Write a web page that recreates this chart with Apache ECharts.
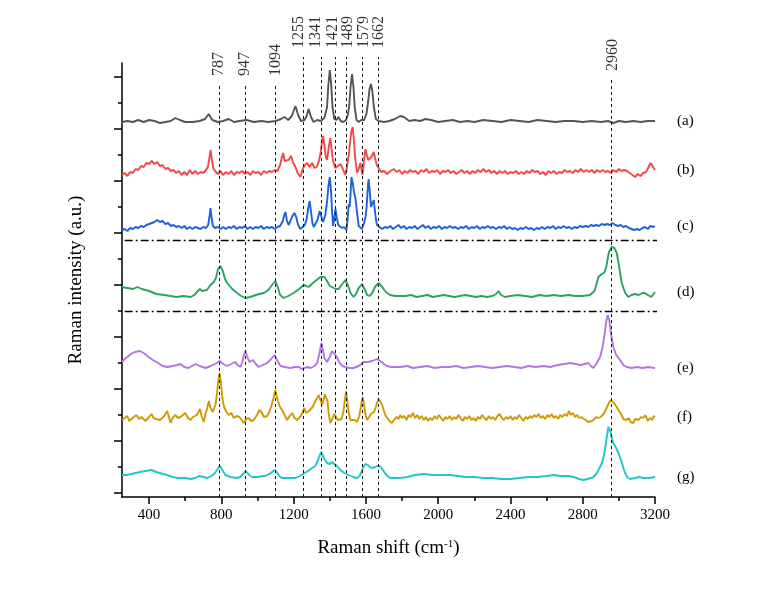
<!DOCTYPE html>
<html><head><meta charset="utf-8">
<script src="https://cdn.jsdelivr.net/npm/echarts@6/dist/echarts.min.js"></script>
<style>html,body{margin:0;padding:0;background:#fff}#c{width:778px;height:593px}</style>
</head><body><div id="c"></div>
<script>
// Raman shift (cm-1) vs intensity (a.u., stacked with offsets already included)
const xTicks = [400, 800, 1200, 1600, 2000, 2400, 2800, 3200];
const xMinorTicks = [600, 1000, 1400, 1800, 2200, 2600, 3000];
const yMajorTicks = [4, 56, 108, 160, 212, 264, 316, 368, 420];
const yMinorTicks = [30, 82, 134, 186, 238, 290, 342, 394];
const seriesNames = ['(a)', '(b)', '(c)', '(d)', '(e)', '(f)', '(g)'];
const colors = ['#555555', '#f24848', '#1d62d8', '#2aa262', '#b474e2', '#d09a06', '#22c5c8'];

const specA = [[250,375],[280,376],[310,375],[340,377],[370,375],[400,377],[430,376],[460,374],[490,375],[520,376],[545,379],[570,377],[600,375],[640,375],[680,376],[710,378],[730,383],[750,377],[780,375],[810,376],[840,378],[870,375],[900,376],[940,377],[980,375],[1020,376],[1060,375],[1100,376],[1130,378],[1150,380],[1170,377],[1190,381],[1210,391],[1225,382],[1240,376],[1260,377],[1272,381],[1283,388],[1296,380],[1310,375],[1330,377],[1350,376],[1370,379],[1385,390],[1392,412],[1400,427],[1408,412],[1415,390],[1425,378],[1437,377],[1448,380],[1460,376],[1475,375],[1490,377],[1500,382],[1508,392],[1515,410],[1523,423],[1531,410],[1538,390],[1548,377],[1560,375],[1575,377],[1590,377],[1603,383],[1612,395],[1620,408],[1628,413],[1636,405],[1644,390],[1655,378],[1670,376],[1700,375],[1730,376],[1760,378],[1790,381],[1810,380],[1840,376],[1870,377],[1900,376],[1930,378],[1960,377],[2000,375],[2040,376],[2080,377],[2120,375],[2160,376],[2200,375],[2250,377],[2300,376],[2350,375],[2400,377],[2450,376],[2500,375],[2550,377],[2600,376],[2650,375],[2700,376],[2750,376],[2800,375],[2850,376],[2900,375],[2940,376],[2970,374],[3000,376],[3040,375],[3080,376],[3120,375],[3160,376],[3200,376]];

const specB = [[250,322],[265,324],[280,321],[295,325],[310,324],[325,328],[340,327],[355,331],[370,330],[385,334],[400,333],[415,336],[430,333],[445,335],[460,331],[475,332],[490,328],[505,329],[520,326],[535,327],[550,324],[565,326],[580,322],[595,325],[610,322],[625,327],[640,323],[655,326],[670,323],[685,325],[700,324],[715,327],[725,330],[733,338],[740,347],[747,338],[755,329],[765,326],[780,323],[795,326],[810,322],[825,325],[840,323],[855,326],[870,322],[885,325],[900,324],[915,326],[930,323],[945,325],[960,322],[975,326],[990,324],[1005,325],[1020,322],[1035,326],[1050,324],[1065,326],[1080,325],[1095,327],[1110,326],[1125,332],[1135,340],[1142,344],[1150,336],[1160,334],[1172,337],[1186,341],[1198,334],[1210,330],[1222,324],[1237,320],[1250,328],[1262,332],[1275,334],[1288,330],[1302,334],[1315,329],[1328,330],[1340,336],[1350,345],[1357,356],[1363,361],[1370,352],[1378,340],[1385,337],[1393,348],[1403,359],[1410,348],[1418,336],[1431,329],[1445,331],[1459,333],[1472,328],[1486,322],[1495,330],[1505,342],[1513,356],[1520,366],[1527,370],[1534,356],[1540,340],[1551,324],[1560,328],[1569,334],[1575,328],[1581,322],[1588,334],[1597,348],[1605,342],[1613,337],[1621,335],[1630,340],[1643,345],[1652,338],[1660,332],[1670,329],[1685,325],[1700,326],[1717,323],[1735,326],[1756,328],[1770,325],[1785,327],[1800,323],[1815,326],[1830,324],[1845,327],[1860,325],[1875,326],[1890,323],[1905,327],[1920,325],[1935,328],[1950,324],[1965,326],[1980,325],[1995,327],[2010,323],[2025,326],[2040,325],[2055,327],[2070,324],[2085,326],[2100,323],[2115,325],[2130,327],[2145,324],[2160,326],[2175,323],[2190,326],[2205,324],[2220,327],[2235,325],[2250,328],[2265,325],[2280,327],[2295,324],[2310,326],[2325,323],[2340,326],[2355,324],[2370,326],[2385,323],[2400,325],[2415,324],[2430,326],[2445,323],[2460,325],[2475,323],[2490,326],[2505,324],[2520,327],[2535,325],[2550,326],[2565,323],[2580,325],[2595,322],[2610,326],[2625,324],[2640,326],[2655,323],[2670,325],[2685,324],[2700,327],[2715,325],[2730,326],[2745,324],[2760,327],[2775,325],[2790,328],[2805,325],[2820,327],[2835,325],[2850,327],[2865,324],[2880,327],[2895,325],[2910,327],[2925,325],[2940,326],[2955,324],[2970,327],[2985,325],[3000,328],[3015,326],[3030,327],[3045,326],[3060,324],[3075,322],[3090,320],[3105,323],[3120,321],[3135,324],[3150,325],[3165,330],[3175,334],[3185,332],[3200,327]];

const specC = [[250,267],[265,268],[280,266],[295,269],[310,268],[325,270],[340,269],[355,271],[370,270],[385,272],[400,273],[415,274],[430,275],[445,277],[460,275],[475,276],[490,273],[505,274],[520,271],[535,272],[550,270],[565,271],[580,269],[595,271],[610,268],[625,270],[640,268],[655,270],[670,269],[685,268],[700,270],[715,269],[727,272],[734,280],[740,289],[746,279],[753,271],[765,269],[780,270],[795,268],[810,270],[825,268],[840,270],[855,269],[870,271],[885,268],[900,270],[915,269],[930,271],[945,268],[960,270],[975,268],[990,270],[1005,269],[1020,271],[1035,268],[1050,270],[1065,269],[1080,270],[1095,268],[1110,270],[1125,271],[1140,276],[1148,282],[1155,285],[1163,276],[1172,272],[1182,276],[1193,281],[1204,284],[1214,280],[1225,272],[1237,268],[1250,270],[1262,272],[1272,278],[1280,288],[1289,296],[1297,284],[1304,274],[1311,270],[1322,272],[1332,277],[1344,286],[1352,281],[1363,275],[1375,282],[1385,295],[1392,310],[1400,320],[1407,306],[1413,285],[1418,271],[1424,277],[1431,288],[1438,280],[1447,272],[1458,270],[1468,269],[1480,270],[1492,267],[1498,276],[1505,293],[1510,290],[1514,300],[1520,320],[1527,314],[1534,305],[1542,299],[1550,286],[1560,271],[1570,269],[1578,268],[1588,273],[1597,279],[1604,290],[1610,308],[1615,318],[1621,306],[1628,290],[1635,292],[1643,297],[1650,286],[1656,277],[1661,272],[1675,270],[1690,268],[1705,270],[1720,269],[1735,271],[1750,268],[1765,270],[1780,272],[1795,269],[1810,271],[1825,268],[1840,270],[1855,269],[1870,271],[1885,268],[1900,270],[1915,272],[1930,269],[1945,271],[1960,268],[1975,270],[1990,269],[2005,271],[2020,268],[2035,270],[2050,269],[2065,271],[2080,269],[2095,270],[2110,268],[2125,270],[2140,269],[2155,271],[2170,268],[2185,270],[2200,269],[2215,271],[2230,268],[2245,270],[2260,269],[2275,271],[2290,269],[2305,270],[2320,268],[2335,270],[2350,269],[2365,271],[2380,268],[2395,270],[2410,268],[2425,269],[2440,267],[2455,269],[2470,268],[2485,270],[2500,268],[2515,269],[2530,267],[2545,269],[2560,268],[2575,270],[2590,268],[2605,270],[2620,269],[2635,271],[2650,268],[2665,270],[2680,269],[2695,271],[2710,269],[2725,270],[2740,268],[2755,270],[2770,269],[2785,271],[2800,270],[2815,271],[2830,270],[2845,272],[2860,271],[2875,272],[2890,271],[2905,273],[2920,272],[2935,273],[2950,272],[2965,274],[2980,272],[2995,271],[3010,272],[3025,270],[3040,271],[3055,269],[3070,268],[3085,267],[3100,268],[3115,267],[3130,269],[3145,270],[3160,268],[3175,271],[3190,270],[3200,271]];

const specD = [[250,210],[280,209],[310,208],[335,210],[360,208],[400,206],[440,203],[482,202],[520,201],[550,200],[590,201],[629,200],[650,202],[665,205],[681,208],[693,206],[703,204],[720,207],[740,212],[758,215],[770,219],[782,228],[795,231],[808,226],[820,218],[832,214],[860,208],[887,204],[910,201],[933,199],[960,200],[990,202],[1010,203],[1035,204],[1060,207],[1080,212],[1099,216],[1112,210],[1125,202],[1145,199],[1170,201],[1200,204],[1230,208],[1256,212],[1270,211],[1283,210],[1300,213],[1320,216],[1348,220],[1370,220],[1385,216],[1400,211],[1422,209],[1435,208],[1449,208],[1465,212],[1486,217],[1500,212],[1515,204],[1532,200],[1545,203],[1560,209],[1578,213],[1592,208],[1607,202],[1620,201],[1635,204],[1650,210],[1670,214],[1690,210],[1710,205],[1734,202],[1760,201],[1790,201],[1820,201],[1850,202],[1880,200],[1910,201],[1940,202],[1970,200],[2000,201],[2030,202],[2060,201],[2090,200],[2120,201],[2150,202],[2180,201],[2210,200],[2240,201],[2270,200],[2300,201],[2320,203],[2334,206],[2348,202],[2370,200],[2400,201],[2440,202],[2480,201],[2520,200],[2560,202],[2600,201],[2640,202],[2680,201],[2720,202],[2760,201],[2800,201],[2840,202],[2865,206],[2887,220],[2905,223],[2918,224],[2930,230],[2945,245],[2960,250],[2975,249],[2988,244],[3000,232],[3016,214],[3035,204],[3052,200],[3070,202],[3088,203],[3110,202],[3130,204],[3143,204],[3160,202],[3180,200],[3200,205]];

const specE = [[250,135],[265,138],[280,140],[300,143],[320,145],[349,146],[370,144],[390,141],[420,137],[450,134],[475,131],[500,130],[530,131],[555,132],[574,133],[595,130],[617,129],[637,131],[657,133],[680,131],[713,129],[740,131],[765,133],[791,136],[810,133],[832,131],[855,133],[875,135],[890,132],[906,130],[916,135],[925,142],[933,146],[942,141],[955,135],[966,137],[976,137],[990,133],[1007,130],[1030,132],[1053,134],[1075,138],[1094,142],[1105,138],[1127,131],[1150,130],[1183,129],[1205,130],[1229,130],[1245,128],[1260,129],[1275,130],[1293,129],[1315,131],[1330,134],[1342,143],[1354,154],[1362,147],[1370,139],[1385,135],[1400,140],[1412,146],[1422,147],[1435,141],[1455,134],[1470,131],[1486,130],[1510,129],[1532,129],[1560,131],[1587,135],[1610,135],[1635,136],[1661,138],[1680,136],[1700,133],[1716,131],[1740,130],[1790,130],[1830,131],[1860,129],[1900,130],[1940,131],[1980,129],[2020,130],[2060,130],[2100,131],[2140,129],[2180,130],[2220,131],[2260,130],[2300,129],[2340,130],[2380,131],[2420,130],[2460,129],[2500,131],[2540,130],[2580,131],[2620,130],[2660,132],[2700,133],[2730,134],[2760,133],[2790,132],[2810,133],[2831,134],[2845,131],[2859,129],[2875,133],[2896,140],[2910,150],[2920,162],[2930,175],[2938,182],[2946,178],[2955,165],[2969,150],[2985,142],[3006,137],[3025,132],[3043,130],[3070,129],[3100,130],[3130,129],[3160,130],[3200,129]];

const specF = [[250,77],[265,79],[280,81],[290,76],[300,77],[315,80],[330,82],[345,78],[357,80],[367,80],[380,76],[390,78],[400,80],[413,83],[425,79],[440,78],[450,80],[460,77],[470,79],[480,80],[490,78],[500,86],[510,80],[519,74],[530,79],[545,82],[560,79],[574,80],[585,82],[600,84],[615,79],[630,77],[642,80],[655,81],[668,83],[681,88],[692,80],[703,75],[712,83],[720,88],[731,96],[738,90],[745,91],[752,85],[758,87],[767,92],[775,102],[782,115],[790,124],[797,115],[805,100],[811,93],[817,89],[828,85],[840,82],[855,84],[869,79],[885,81],[900,80],[912,77],[924,74],[937,78],[950,79],[965,76],[979,77],[990,80],[1000,83],[1010,87],[1016,89],[1025,84],[1035,80],[1045,79],[1053,81],[1065,85],[1075,90],[1087,98],[1099,107],[1107,100],[1115,95],[1125,90],[1136,87],[1150,82],[1164,77],[1178,81],[1192,84],[1205,79],[1219,77],[1230,79],[1240,81],[1250,85],[1260,89],[1268,84],[1275,83],[1285,86],[1293,85],[1305,90],[1320,96],[1330,99],[1339,102],[1348,97],[1357,92],[1366,97],[1372,103],[1379,105],[1387,96],[1395,82],[1403,74],[1413,78],[1425,83],[1435,80],[1445,77],[1455,75],[1465,78],[1475,85],[1483,96],[1490,106],[1497,96],[1505,84],[1514,77],[1525,79],[1538,77],[1551,75],[1562,80],[1570,88],[1576,95],[1582,100],[1590,92],[1598,82],[1606,77],[1618,80],[1627,83],[1634,82],[1645,85],[1655,90],[1663,95],[1670,98],[1680,96],[1690,92],[1700,86],[1707,82],[1718,80],[1730,76],[1744,74],[1755,77],[1768,80],[1780,78],[1790,82],[1800,79],[1812,81],[1824,77],[1836,82],[1848,80],[1860,84],[1872,79],[1884,82],[1896,78],[1908,81],[1920,77],[1932,80],[1944,76],[1956,79],[1968,77],[1980,81],[1992,78],[2004,82],[2016,79],[2028,76],[2040,80],[2052,78],[2064,81],[2076,77],[2088,80],[2100,78],[2112,82],[2124,79],[2136,76],[2148,80],[2160,78],[2172,81],[2184,77],[2196,79],[2208,76],[2220,80],[2232,78],[2244,82],[2256,79],[2268,77],[2280,81],[2292,78],[2304,80],[2316,77],[2328,81],[2340,83],[2352,79],[2364,77],[2376,80],[2388,78],[2400,81],[2412,77],[2424,80],[2436,78],[2448,82],[2460,79],[2472,76],[2484,80],[2496,78],[2508,81],[2520,79],[2532,82],[2544,80],[2556,83],[2568,79],[2580,81],[2592,78],[2604,82],[2616,80],[2628,83],[2640,79],[2652,81],[2664,78],[2676,82],[2688,80],[2700,83],[2712,81],[2724,86],[2733,82],[2745,84],[2757,80],[2769,82],[2781,79],[2793,80],[2805,78],[2817,77],[2829,75],[2840,74],[2852,76],[2864,78],[2876,80],[2888,79],[2900,80],[2915,83],[2930,88],[2945,94],[2955,97],[2963,98],[2972,94],[2980,92],[2988,90],[2997,87],[3005,85],[3015,82],[3025,78],[3035,80],[3043,77],[3055,79],[3065,75],[3080,74],[3090,78],[3100,80],[3110,77],[3122,80],[3135,79],[3147,82],[3160,76],[3172,79],[3185,77],[3192,81],[3200,80]];

const specG = [[250,22],[275,22],[300,23],[325,24],[350,25],[380,26],[413,27],[440,25],[478,23],[500,22],[530,20],[560,19],[600,19],[630,18],[655,19],[676,21],[700,20],[722,19],[745,21],[765,24],[780,28],[791,31],[800,29],[812,25],[823,22],[850,20],[887,19],[905,20],[920,23],[933,26],[945,24],[958,21],[970,20],[1000,20],[1030,21],[1044,21],[1065,23],[1080,25],[1094,27],[1106,25],[1120,21],[1136,19],[1170,19],[1210,19],[1235,21],[1260,24],[1280,26],[1302,29],[1320,31],[1335,37],[1345,42],[1352,45],[1360,43],[1370,38],[1385,34],[1400,33],[1412,35],[1422,35],[1440,31],[1459,27],[1480,24],[1505,22],[1530,20],[1551,19],[1565,21],[1575,25],[1585,30],[1597,33],[1610,32],[1622,30],[1634,29],[1650,30],[1662,31],[1676,31],[1690,28],[1705,24],[1720,21],[1734,19],[1760,19],[1790,19],[1830,20],[1870,22],[1920,23],[1970,22],[2020,22],[2068,22],[2110,21],[2150,20],[2200,20],[2250,19],[2300,19],[2350,18],[2400,18],[2450,19],[2500,20],[2550,20],[2600,21],[2640,22],[2680,21],[2720,21],[2750,20],[2780,18],[2804,17],[2825,18],[2845,19],[2859,20],[2875,23],[2890,28],[2906,34],[2918,42],[2930,56],[2942,70],[2952,66],[2962,58],[2969,54],[2985,49],[2998,44],[3015,35],[3034,24],[3050,19],[3062,18],[3090,19],[3110,20],[3135,19],[3165,19],[3200,20]];

// Peak markers: dashed-line position, label text, label anchor position, top of dashed line
const peakPositions = [788, 932, 1096, 1253, 1353, 1428, 1490, 1582, 1668, 2960];
const peakLabels = ['787', '947', '1094', '1255', '1341', '1421', '1489', '1579', '1662', '2960'];
const peakLabelPositions = [783, 931, 1101, 1230, 1324, 1416, 1502, 1586, 1674, 2964];
const peakTops = [412, 412, 412, 440, 440, 440, 440, 440, 440, 417];
// Dash-dot separators between sample groups
const separatorLevels = [256.5, 185.5];
const separatorSpan = [265, 3228];

const spectra = [specA, specB, specC, specD, specE, specF, specG];
const FONT = '"Liberation Serif", "Times New Roman", serif';

const chart = echarts.init(document.getElementById('c'), null, {renderer: 'canvas'});

const series = spectra.map((d, i) => ({
  type: 'line', xAxisIndex: 0, yAxisIndex: 0, data: d, showSymbol: false, symbol: 'none',
  lineStyle: {color: colors[i], width: 1.9}, itemStyle: {color: colors[i]},
  silent: true, z: 3,
  endLabel: {show: true, formatter: seriesNames[i], distance: 22, color: '#000',
             fontFamily: FONT, fontSize: 15}
}));

series.push({
  type: 'line', xAxisIndex: 2, yAxisIndex: 2, data: [], silent: true, z: 2,
  markLine: {
    silent: true, symbol: ['none', 'none'], label: {show: false},
    lineStyle: {color: '#111', width: 1, type: [3, 3]},
    data: peakPositions.map((p, i) => [{coord: [p, 0]}, {coord: [p, peakTops[i]]}])
  }
});
separatorLevels.forEach(v => {
  series.push({
    type: 'line', xAxisIndex: 2, yAxisIndex: 2, silent: true, z: 2, clip: false,
    showSymbol: false, symbol: 'none',
    data: [[separatorSpan[0], v], [separatorSpan[1], v]],
    lineStyle: {color: '#000', width: 1.4, type: [8, 3, 2, 3]}
  });
});
series.push({
  type: 'scatter', xAxisIndex: 2, yAxisIndex: 2, symbolSize: 0, silent: true, clip: false,
  data: peakLabelPositions.map((p, i) => [p, peakTops[i], peakLabels[i]]),
  label: {show: true, position: 'top', distance: 9, rotate: 90, align: 'left', verticalAlign: 'middle',
          formatter: p => p.data[2], color: '#000', fontFamily: FONT, fontSize: 16}
});

chart.setOption({
  animation: false,
  backgroundColor: '#fff',
  grid: [
    {left: 122, width: 533, top: 63, height: 434},
    {left: 122, width: 533, top: 0, height: 497}
  ],
  xAxis: [
    {type: 'value', gridIndex: 0, min: 250, max: 3200,
     name: 'Raman shift (cm{sup|-1})', nameLocation: 'middle', nameGap: 42,
     nameTextStyle: {fontFamily: FONT, fontSize: 19, color: '#000',
       rich: {sup: {fontFamily: FONT, fontSize: 11, verticalAlign: 'top', lineHeight: 14, color: '#000'}}},
     axisLine: {show: true, lineStyle: {color: '#000', width: 1.5}},
     axisTick: {show: true, length: 7, lineStyle: {color: '#000', width: 1.5}, customValues: xTicks},
     axisLabel: {show: true, customValues: xTicks, formatter: v => String(v), margin: 11,
                 color: '#000', fontFamily: FONT, fontSize: 15},
     splitLine: {show: false}},
    {type: 'value', gridIndex: 0, min: 250, max: 3200, position: 'bottom',
     axisLine: {show: false},
     axisTick: {show: true, length: 4, lineStyle: {color: '#000', width: 1.5}, customValues: xMinorTicks},
     axisLabel: {show: false}, splitLine: {show: false}},
    {type: 'value', gridIndex: 1, min: 250, max: 3200, show: false}
  ],
  yAxis: [
    {type: 'value', gridIndex: 0, min: 0, max: 434,
     name: 'Raman intensity (a.u.)', nameLocation: 'middle', nameGap: 36,
     nameTextStyle: {fontFamily: FONT, fontSize: 19, color: '#000'},
     axisLine: {show: true, lineStyle: {color: '#000', width: 1.5}},
     axisTick: {show: true, length: 8, lineStyle: {color: '#000', width: 1.5}, customValues: yMajorTicks},
     axisLabel: {show: false}, splitLine: {show: false}},
    {type: 'value', gridIndex: 0, min: 0, max: 434, position: 'left',
     axisLine: {show: false},
     axisTick: {show: true, length: 4, lineStyle: {color: '#000', width: 1.5}, customValues: yMinorTicks},
     axisLabel: {show: false}, splitLine: {show: false}},
    {type: 'value', gridIndex: 1, min: 0, max: 497, show: false}
  ],
  series: series
});
</script>
</body></html>
